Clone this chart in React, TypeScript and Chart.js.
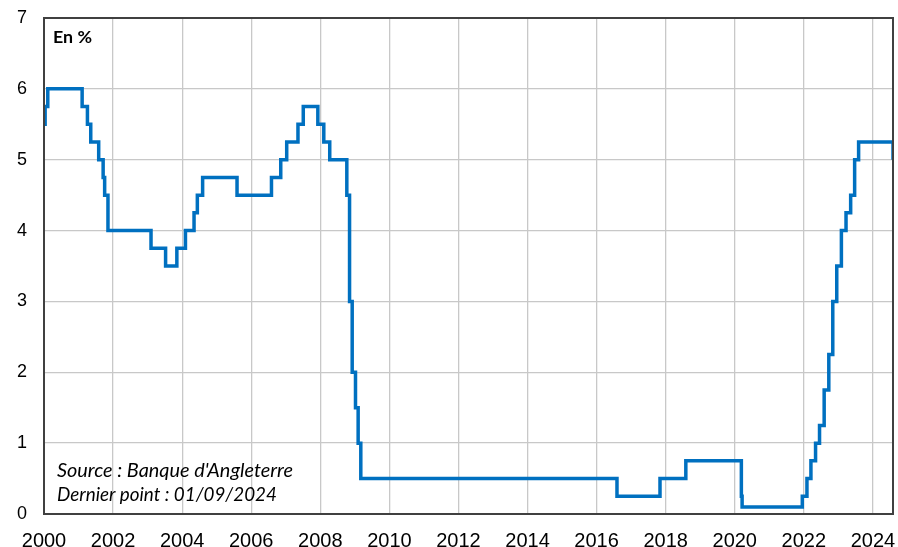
import React, { useEffect, useRef } from "react";
import { Chart, registerables } from "chart.js";

Chart.register(...registerables);

// Bank of England Bank Rate: decision dates and new rate (%)
const rateDates: string[] = [
  "2000-01-01", "2000-01-13", "2000-02-10", "2001-02-08", "2001-04-05", "2001-05-10",
  "2001-08-02", "2001-09-18", "2001-10-04", "2001-11-08", "2003-02-06", "2003-07-10",
  "2003-11-06", "2004-02-05", "2004-05-06", "2004-06-10", "2004-08-05", "2005-08-04",
  "2006-08-03", "2006-11-09", "2007-01-11", "2007-05-10", "2007-07-05", "2007-12-06",
  "2008-02-07", "2008-04-10", "2008-10-08", "2008-11-06", "2008-12-04", "2009-01-08",
  "2009-02-05", "2009-03-05", "2016-08-04", "2017-11-02", "2018-08-02", "2020-03-11",
  "2020-03-19", "2021-12-16", "2022-02-03", "2022-03-17", "2022-05-05", "2022-06-16",
  "2022-08-04", "2022-09-22", "2022-11-03", "2022-12-15", "2023-02-02", "2023-03-23",
  "2023-05-11", "2023-06-22", "2023-08-03", "2024-08-01", "2024-09-01",
];
const rateValues: number[] = [
  5.5, 5.75, 6.0, 5.75, 5.5, 5.25,
  5.0, 4.75, 4.5, 4.0, 3.75, 3.5,
  3.75, 4.0, 4.25, 4.5, 4.75, 4.5,
  4.75, 5.0, 5.25, 5.5, 5.75, 5.5,
  5.25, 5.0, 4.5, 3.0, 2.0, 1.5,
  1.0, 0.5, 0.25, 0.5, 0.75, 0.25,
  0.1, 0.25, 0.5, 0.75, 1.0, 1.25,
  1.75, 2.25, 3.0, 3.5, 4.0, 4.25,
  4.5, 5.0, 5.25, 5.0, 5.0,
];
const xTickYears: number[] = [2000, 2002, 2004, 2006, 2008, 2010, 2012, 2014, 2016, 2018, 2020, 2022, 2024];
const yTickValues: number[] = [0, 1, 2, 3, 4, 5, 6, 7];
const unitLabel = "En %";
const sourceLines: string[] = ["Source : Banque d'Angleterre", "Dernier point : 01/09/2024"];

function toDecimalYear(s: string): number {
  const [y, m, d] = s.split("-").map(Number);
  const start = Date.UTC(y, 0, 1);
  const end = Date.UTC(y + 1, 0, 1);
  const t = Date.UTC(y, m - 1, d);
  return y + (t - start) / (end - start);
}

const X_MIN = 2000;
const X_MAX = toDecimalYear("2024-08-01");

function fitFont(ctx: CanvasRenderingContext2D, text: string, style: string, family: string, target: number): void {
  ctx.font = `${style} 20px ${family}`;
  const w = ctx.measureText(text).width;
  const size = (20 * target) / w;
  ctx.font = `${style} ${size.toFixed(2)}px ${family}`;
}

const frameAndText = {
  id: "frameAndText",
  afterDraw(chart: any) {
    const { ctx, chartArea } = chart;
    ctx.save();
    ctx.strokeStyle = "#404040";
    ctx.lineWidth = 2;
    ctx.strokeRect(chartArea.left, chartArea.top, chartArea.right - chartArea.left, chartArea.bottom - chartArea.top);
    ctx.fillStyle = "#000";
    ctx.textBaseline = "alphabetic";
    ctx.textAlign = "left";
    const fam = "Lato, 'Liberation Sans', sans-serif";
    fitFont(ctx, unitLabel, "bold", fam, 39);
    ctx.fillText(unitLabel, chartArea.left + 9, chartArea.top + 25);
    fitFont(ctx, sourceLines[0], "italic", fam, 236);
    ctx.fillText(sourceLines[0], chartArea.left + 13, 477);
    fitFont(ctx, sourceLines[1], "italic", fam, 220);
    ctx.fillText(sourceLines[1], chartArea.left + 13, 501);
    ctx.restore();
  },
};

export default function App() {
  const ref = useRef<HTMLCanvasElement | null>(null);
  useEffect(() => {
    if (!ref.current) return;
    const data = rateDates.map((d, i) => ({ x: toDecimalYear(d), y: rateValues[i] }));
    const chart = new Chart(ref.current, {
      type: "line",
      data: {
        datasets: [
          {
            data,
            borderColor: "#0070C0",
            borderWidth: 3.5,
            pointRadius: 0,
            stepped: true,
            fill: false,
            tension: 0,
          },
        ],
      },
      options: {
        animation: false,
        responsive: false,
        maintainAspectRatio: false,
        devicePixelRatio: 1,
        layout: { padding: { left: 0, top: 18, right: 5, bottom: 0 } },
        plugins: { legend: { display: false }, tooltip: { enabled: false } },
        scales: {
          x: {
            type: "linear",
            min: X_MIN,
            max: X_MAX,
            afterBuildTicks: (scale: any) => {
              scale.ticks = xTickYears.map((v) => ({ value: v }));
            },
            afterFit: (scale: any) => {
              scale.height = 33;
              scale.paddingLeft = 0;
              scale.paddingRight = 0;
            },
            ticks: {
              autoSkip: false,
              maxRotation: 0,
              padding: 15,
              color: "#000",
              font: { family: "'Liberation Sans', Arial, sans-serif", size: 20 },
              callback: (v: any) => String(v),
            },
            grid: { color: "#c8c8c8", lineWidth: 1.3, drawTicks: false },
            border: { display: false },
          },
          y: {
            type: "linear",
            min: 0,
            max: 7,
            afterBuildTicks: (scale: any) => {
              scale.ticks = yTickValues.map((v) => ({ value: v }));
            },
            afterFit: (scale: any) => {
              scale.width = 44;
              scale.paddingTop = 0;
              scale.paddingBottom = 0;
            },
            ticks: {
              padding: 17,
              color: "#000",
              font: { family: "'Liberation Sans', Arial, sans-serif", size: 18 },
              callback: (v: any) => String(v),
            },
            grid: { color: "#c8c8c8", lineWidth: 1.3, drawTicks: false },
            border: { display: false },
          },
        },
      },
      plugins: [frameAndText],
    });
    return () => chart.destroy();
  }, []);
  return (
    <div style={{ position: "absolute", left: 0, top: 0, width: 898, height: 547, background: "#fff" }}>
      <canvas ref={ref} width={898} height={547} style={{ width: 898, height: 547 }} />
    </div>
  );
}
